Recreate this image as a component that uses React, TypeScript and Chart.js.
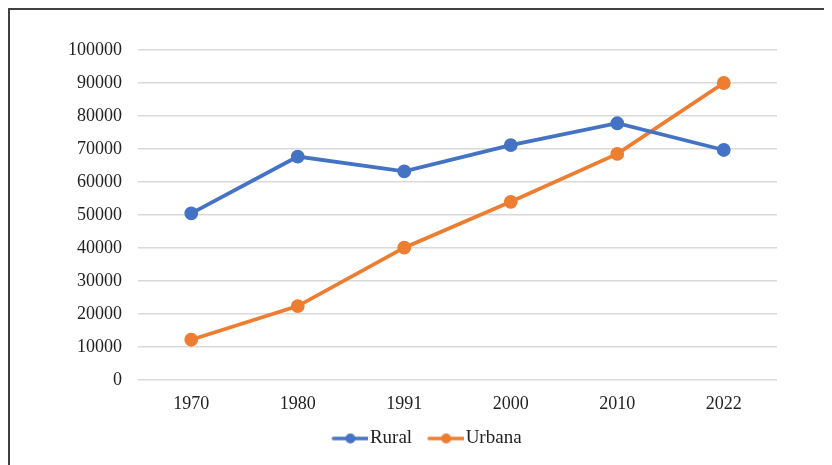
import React, { useEffect, useRef } from "react";
import { Chart, registerables } from "chart.js";

Chart.register(...registerables);

const categories = ["1970", "1980", "1991", "2000", "2010", "2022"];
const ruralValues = [50500, 67700, 63200, 71200, 77800, 69700];
const urbanaValues = [12200, 22400, 40100, 54000, 68500, 90000];
const seriesNames = ["Rural", "Urbana"];
const yTicksMax = 100000;
const yTickStep = 10000;

const BLUE = "#4472C4";
const ORANGE = "#ED7D31";
const FONT = "'Liberation Serif', 'Times New Roman', serif";

function makeLegendIcon(color: string): HTMLCanvasElement {
  const c = document.createElement("canvas");
  c.width = 54;
  c.height = 12;
  const ctx = c.getContext("2d")!;
  ctx.strokeStyle = color;
  ctx.lineWidth = 3.5;
  ctx.lineCap = "round";
  ctx.beginPath();
  ctx.moveTo(19, 6);
  ctx.lineTo(53, 6);
  ctx.stroke();
  ctx.fillStyle = color;
  ctx.beginPath();
  ctx.arc(36, 6, 5, 0, Math.PI * 2);
  ctx.fill();
  return c;
}

export default function App() {
  const ref = useRef<HTMLCanvasElement | null>(null);

  useEffect(() => {
    if (!ref.current) return;
    const icons = [makeLegendIcon(BLUE), makeLegendIcon(ORANGE)];
    const chart = new Chart(ref.current, {
      type: "line",
      data: {
        labels: categories,
        datasets: [
          {
            label: seriesNames[0],
            data: ruralValues,
            borderColor: BLUE,
            backgroundColor: BLUE,
            borderWidth: 3.8,
            pointRadius: 5,
            pointHoverRadius: 5,
            pointBackgroundColor: BLUE,
            pointBorderColor: BLUE,
            tension: 0,
          },
          {
            label: seriesNames[1],
            data: urbanaValues,
            borderColor: ORANGE,
            backgroundColor: ORANGE,
            borderWidth: 3.8,
            pointRadius: 5,
            pointHoverRadius: 5,
            pointBackgroundColor: ORANGE,
            pointBorderColor: ORANGE,
            tension: 0,
          },
        ],
      },
      options: {
        responsive: false,
        animation: false,
        layout: { padding: { left: 2, right: 0, top: 40, bottom: 7 } },
        scales: {
          x: {
            offset: true,
            afterFit: (s: any) => {
              s.height = 43;
            },
            grid: { display: false, drawTicks: false },
            border: { display: false },
            ticks: {
              color: "#222",
              font: { family: FONT, size: 18 },
              padding: 13,
            },
          },
          y: {
            min: 0,
            max: yTicksMax,
            afterFit: (s: any) => {
              s.width = 126;
            },
            grid: { color: "#d9d9d9", lineWidth: 1.5, drawTicks: false },
            border: { display: false },
            ticks: {
              stepSize: yTickStep,
              color: "#222",
              font: { family: FONT, size: 18 },
              padding: 16,
              callback: (v: any) => String(v),
            },
          },
          yRight: {
            position: "right",
            display: true,
            afterFit: (s: any) => {
              s.width = 55;
            },
            grid: { display: false, drawTicks: false },
            border: { display: false },
            ticks: { display: false },
          },
        },
        plugins: {
          tooltip: { enabled: false },
          legend: {
            position: "bottom",
            labels: {
              usePointStyle: true,
              pointStyleWidth: 38,
              padding: 6,
              color: "#222",
              font: { family: FONT, size: 19 },
              generateLabels: (ch: any) => {
                const items = (Chart.defaults.plugins.legend.labels as any).generateLabels(ch);
                items.forEach((it: any, i: number) => {
                  it.pointStyle = icons[i];
                });
                return items;
              },
            },
          },
        },
      },
    });
    return () => chart.destroy();
  }, []);

  return (
    <div
      style={{
        width: 822,
        height: 455,
        borderTop: "2px solid #404040",
        borderLeft: "2px solid #404040",
        background: "#fff",
        overflow: "hidden",
      }}
    >
      <canvas ref={ref} width={822} height={455} style={{ display: "block" }} />
    </div>
  );
}
